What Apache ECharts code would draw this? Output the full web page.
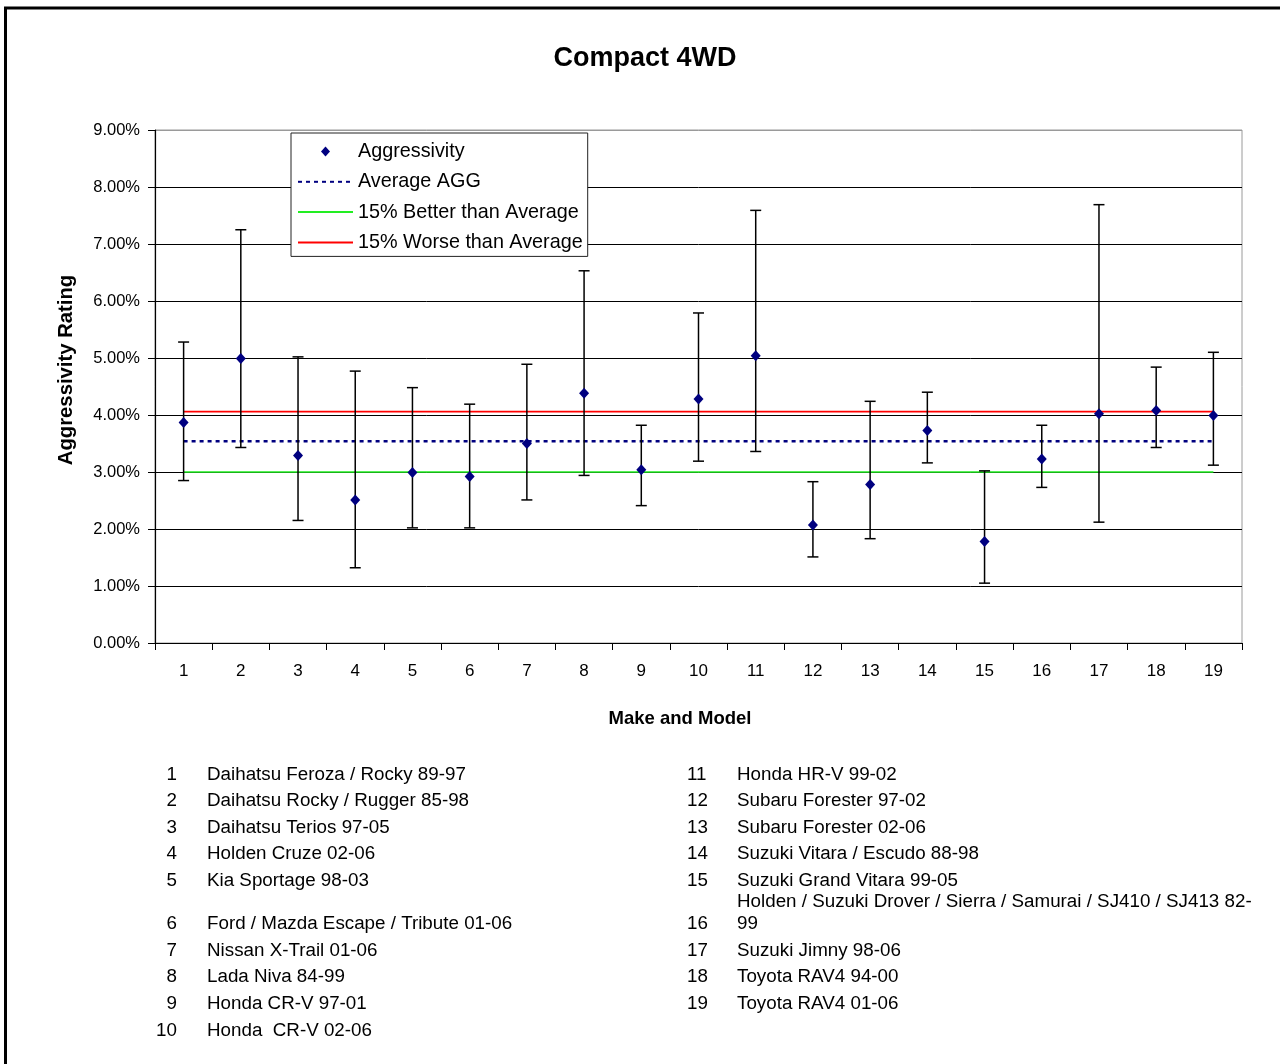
<!DOCTYPE html>
<html>
<head>
<meta charset="utf-8">
<script src="https://cdn.jsdelivr.net/npm/echarts@6/dist/echarts.min.js"></script>
<style>
html,body{margin:0;padding:0;background:#fff;}
#chart{width:1280px;height:1064px;}
</style>
</head>
<body>
<div id="chart"></div>
<script>
// ---- data ----
const categories = ['1','2','3','4','5','6','7','8','9','10','11','12','13','14','15','16','17','18','19'];
const aggressivity = [3.87, 4.99, 3.29, 2.51, 2.99, 2.92, 3.50, 4.38, 3.04, 4.28, 5.04, 2.07, 2.78, 3.73, 1.78, 3.23, 4.02, 4.08, 3.99];
const errLow  = [2.85, 3.43, 2.15, 1.32, 2.02, 2.02, 2.51, 2.94, 2.41, 3.19, 3.36, 1.51, 1.83, 3.16, 1.05, 2.73, 2.12, 3.43, 3.12];
const errHigh = [5.28, 7.25, 5.02, 4.77, 4.48, 4.19, 4.89, 6.53, 3.82, 5.79, 7.59, 2.83, 4.24, 4.40, 3.02, 3.82, 7.69, 4.84, 5.10];
const averageAGG  = [3.54, 3.54, 3.54, 3.54, 3.54, 3.54, 3.54, 3.54, 3.54, 3.54, 3.54, 3.54, 3.54, 3.54, 3.54, 3.54, 3.54, 3.54, 3.54];
const betterAvg   = [3.00, 3.00, 3.00, 3.00, 3.00, 3.00, 3.00, 3.00, 3.00, 3.00, 3.00, 3.00, 3.00, 3.00, 3.00, 3.00, 3.00, 3.00, 3.00];
const worseAvg    = [4.06, 4.06, 4.06, 4.06, 4.06, 4.06, 4.06, 4.06, 4.06, 4.06, 4.06, 4.06, 4.06, 4.06, 4.06, 4.06, 4.06, 4.06, 4.06];
const yTicks = [0, 1, 2, 3, 4, 5, 6, 7, 8, 9];
const seriesNames = ['Aggressivity', 'Average AGG', '15% Better than Average', '15% Worse than Average'];
const chartTitle = 'Compact 4WD';
const yAxisName = 'Aggressivity Rating';
const xAxisName = 'Make and Model';
const leftNums = ['1','2','3','4','5','6','7','8','9','10'];
const leftNames = ['Daihatsu Feroza / Rocky 89-97','Daihatsu Rocky / Rugger 85-98','Daihatsu Terios 97-05','Holden Cruze 02-06','Kia Sportage 98-03','Ford / Mazda Escape / Tribute 01-06','Nissan X-Trail 01-06','Lada Niva 84-99','Honda CR-V 97-01','Honda  CR-V 02-06'];
const rightNums = ['11','12','13','14','15','16','17','18','19'];
const rightNames = ['Honda HR-V 99-02','Subaru Forester 97-02','Subaru Forester 02-06','Suzuki Vitara / Escudo 88-98','Suzuki Grand Vitara 99-05','Holden / Suzuki Drover / Sierra / Samurai / SJ410 / SJ413 82-\n99','Suzuki Jimny 98-06','Toyota RAV4 94-00','Toyota RAV4 01-06'];

const FONT = '"Liberation Sans", Arial, sans-serif';
const errData = categories.map((c, i) => [i, errLow[i], errHigh[i]]);

// ---- graphic texts (title, axis names, model list) ----
const graphics = [];
graphics.push({type:'rect', shape:{x:5.5, y:8, width:1300, height:1100}, style:{fill:'none', stroke:'#000', lineWidth:3}, silent:true});
graphics.push({type:'text', x:645, y:58.5, style:{text:chartTitle, font:'bold 27px ' + FONT, fill:'#000', align:'center', verticalAlign:'middle'}});
graphics.push({type:'text', x:66, y:370, rotation:Math.PI/2, style:{text:yAxisName, font:'bold 20.3px ' + FONT, fill:'#000', align:'center', verticalAlign:'middle'}});
graphics.push({type:'text', x:680, y:718.5, style:{text:xAxisName, font:'bold 18.5px ' + FONT, fill:'#000', align:'center', verticalAlign:'middle'}});

function rowY(i){ return 774.5 + i * 26.6 + (i >= 5 ? 16.5 : 0); }
function addRow(numText, nameText, i, numX, numAlign, nameX){
  const y = rowY(i);
  graphics.push({type:'text', x:numX, y:y, style:{text:numText, font:'18.8px ' + FONT, fill:'#000', align:numAlign, verticalAlign:'middle'}});
  const lines = nameText.split('\n');
  lines.forEach((ln, k) => {
    graphics.push({type:'text', x:nameX, y:y - 22 * (lines.length - 1 - k), style:{text:ln, font:'18.8px ' + FONT, fill:'#000', align:'left', verticalAlign:'middle'}});
  });
}
leftNums.forEach((n, i) => addRow(n, leftNames[i], i, 177, 'right', 207));
rightNums.forEach((n, i) => addRow(n, rightNames[i], i, 687, 'left', 737));

const chart = echarts.init(document.getElementById('chart'), null, {renderer:'canvas'});
chart.setOption({
  animation:false,
  backgroundColor:'#fff',
  textStyle:{fontFamily:FONT},
  grid:{left:155, top:130, right:38, bottom:421, show:true, borderColor:'#9a9a9a', borderWidth:1, backgroundColor:'transparent'},
  legend:{
    orient:'vertical', left:291, top:133, padding:[8.5,5,4,6],
    itemWidth:55, itemHeight:10, itemGap:10.3,
    backgroundColor:'#fff', borderColor:'#222', borderWidth:1,
    textStyle:{fontSize:19.8, lineHeight:20, color:'#000', fontFamily:FONT},
    data:[
      {name:seriesNames[0], icon:'path://M0,0M55,10M27.5,0L32,5L27.5,10L23,5Z'},
      {name:seriesNames[1]},
      {name:seriesNames[2]},
      {name:seriesNames[3]}
    ]
  },
  xAxis:{
    type:'category', data:categories, boundaryGap:true,
    axisLine:{lineStyle:{color:'#000', width:1.2}},
    axisTick:{show:true, length:7, inside:false, lineStyle:{color:'#000'}},
    axisLabel:{fontSize:17, color:'#000', margin:20, fontFamily:FONT},
    splitLine:{show:false}
  },
  yAxis:{
    type:'value', min:yTicks[0], max:yTicks[yTicks.length-1], interval:1,
    axisLine:{show:true, lineStyle:{color:'#000', width:1.2}},
    axisTick:{show:true, length:7, inside:false, lineStyle:{color:'#000'}},
    axisLabel:{fontSize:16.5, color:'#000', margin:15, fontFamily:FONT, formatter:v => v.toFixed(2) + '%'},
    splitLine:{show:true, lineStyle:{color:['#000','#000','#000','#000','#000','#000','#000','#000','#000','#9a9a9a'], width:1}}
  },
  series:[
    {name:seriesNames[1], type:'line', data:averageAGG, symbol:'none', z:2, lineStyle:{color:'#000080', width:2.4, type:[4,4]}, itemStyle:{color:'rgba(0,0,0,0)', borderWidth:0}},
    {name:seriesNames[2], type:'line', data:betterAvg, symbol:'none', z:2, lineStyle:{color:'#22ee22', width:1.6}, itemStyle:{color:'rgba(0,0,0,0)', borderWidth:0}},
    {name:seriesNames[3], type:'line', data:worseAvg, symbol:'none', z:2, lineStyle:{color:'#ff0000', width:1.6}, itemStyle:{color:'rgba(0,0,0,0)', borderWidth:0}},
    {name:'errorbars', type:'custom', z:3, data:errData, silent:true,
      renderItem:function(params, api){
        const x = api.value(0);
        const lo = api.coord([x, api.value(1)]);
        const hi = api.coord([x, api.value(2)]);
        const w = 5.5;
        const st = {stroke:'#000', lineWidth:1.5};
        return {type:'group', children:[
          {type:'line', shape:{x1:lo[0], y1:lo[1], x2:hi[0], y2:hi[1]}, style:st},
          {type:'line', shape:{x1:hi[0]-w, y1:hi[1], x2:hi[0]+w, y2:hi[1]}, style:st},
          {type:'line', shape:{x1:lo[0]-w, y1:lo[1], x2:lo[0]+w, y2:lo[1]}, style:st}
        ]};
      }
    },
    {name:seriesNames[0], type:'scatter', data:aggressivity, symbol:'diamond', symbolSize:[10,11], z:4, itemStyle:{color:'#000080', opacity:1}}
  ],
  graphic:graphics
});
</script>
</body>
</html>
